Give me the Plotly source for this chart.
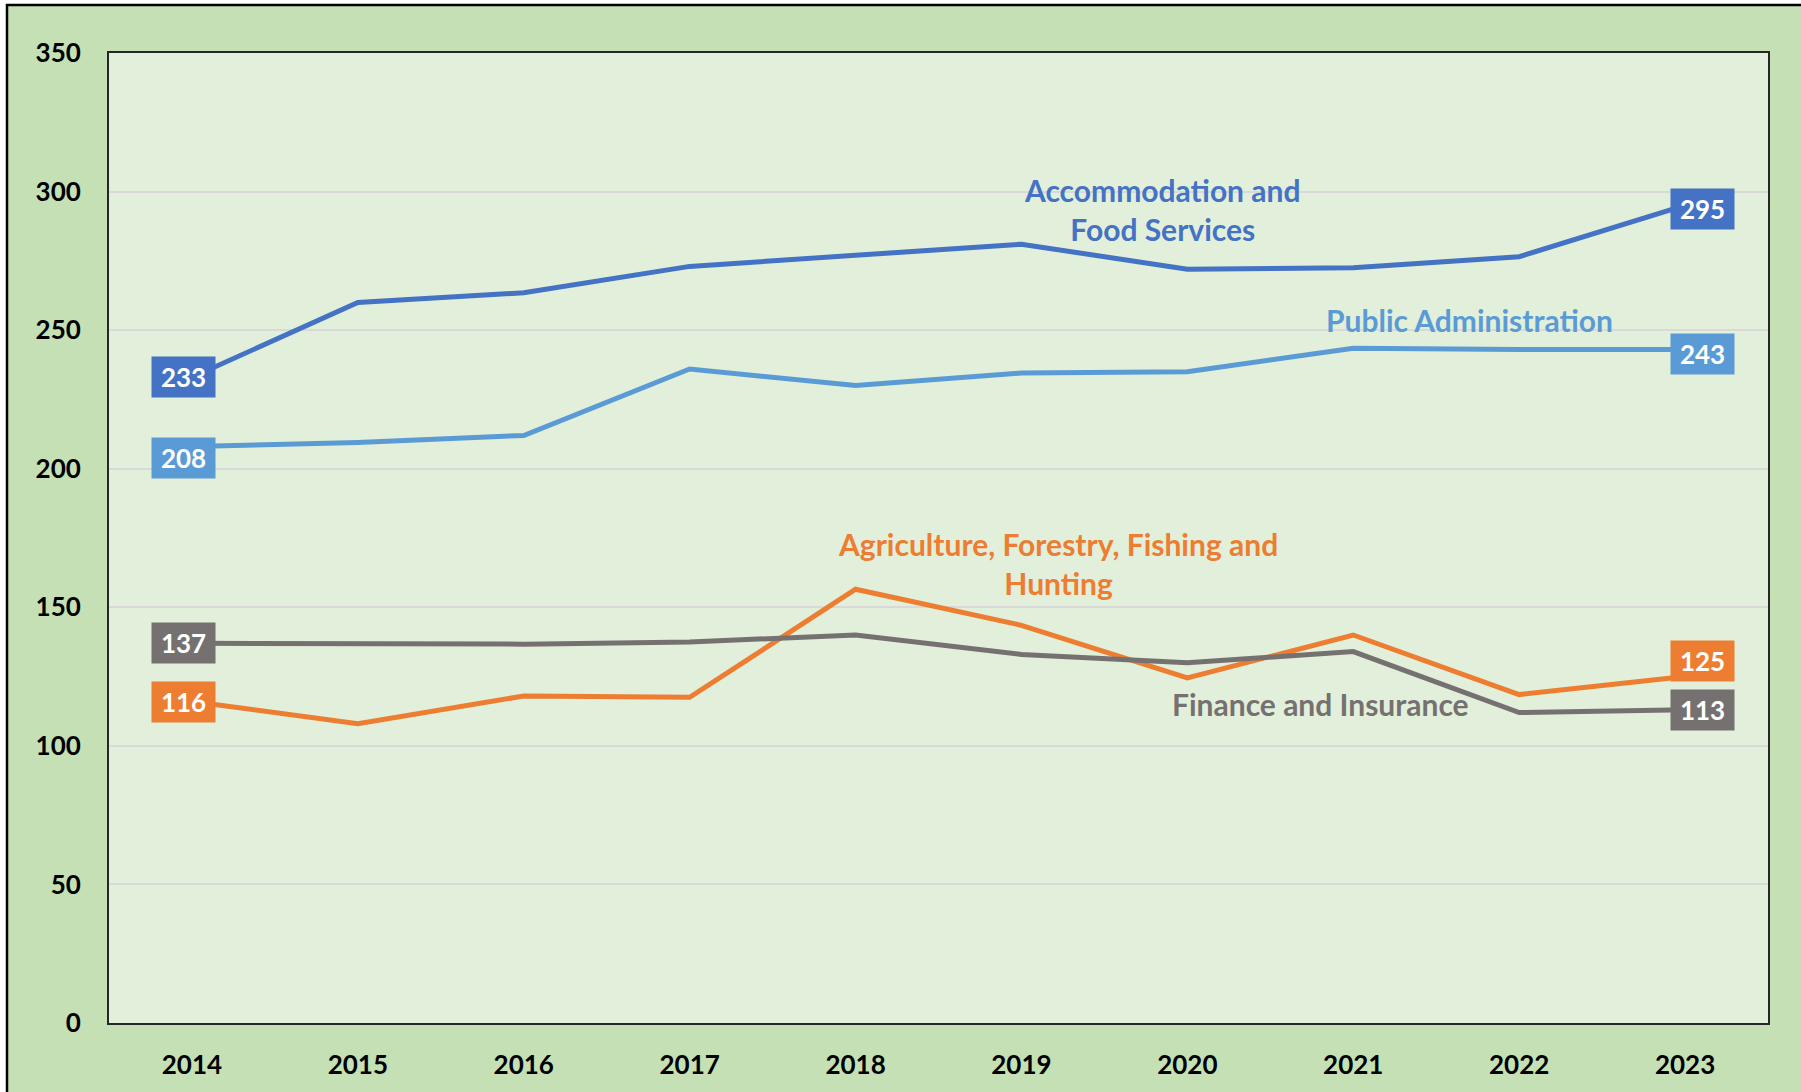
import plotly.graph_objects as go

years = ["2014", "2015", "2016", "2017", "2018", "2019", "2020", "2021", "2022", "2023"]
accommodation = [233, 260, 263.5, 273, 277, 281, 272, 272.5, 276.5, 295]
public_admin = [208, 209.5, 212, 236, 230, 234.5, 235, 243.5, 243, 243]
agriculture = [116, 108, 118, 117.5, 156.5, 143.5, 124.5, 140, 118.5, 125]
finance = [137, 136.7, 136.7, 137.5, 140, 133, 130, 134, 112, 113]

series = [
    ("Accommodation and<br>Food Services", accommodation, "#4472C4"),
    ("Public Administration", public_admin, "#5B9BD5"),
    ("Agriculture, Forestry, Fishing and<br>Hunting", agriculture, "#ED7D31"),
    ("Finance and Insurance", finance, "#767171"),
]

# label placement (x index, y value) for series names
name_pos = [(5.85, 293.5), (7.70, 253.5), (5.22, 165.8), (6.80, 115.2)]
# y shifts for end labels (first, last)
end_shift = [(0, -4), (-11, -4), (0, 16), (0, 0)]

FONT = "Lato"

fig = go.Figure()
for name, vals, col in series:
    fig.add_trace(go.Scatter(x=list(range(len(years))), y=vals, mode="lines",
                             name=name.replace("<br>", " "),
                             line=dict(color=col, width=5), showlegend=False))

annotations = []
for (name, vals, col), (nx, ny), (s0, s1) in zip(series, name_pos, end_shift):
    annotations.append(dict(x=nx, y=ny, xref="x", yref="y", text=name, showarrow=False,
                            align="center", yanchor="middle", xanchor="center",
                            font=dict(family=FONT, size=30, color=col, weight="bold")))
    for idx, xs, ys in ((0, -8, s0), (len(vals) - 1, 17, s1)):
        annotations.append(dict(x=idx, y=vals[idx], xref="x", yref="y",
                                text=str(round(vals[idx])), showarrow=False,
                                xshift=xs, yshift=ys, width=63, height=40, borderpad=0,
                                bgcolor=col, align="center", valign="middle",
                                font=dict(family=FONT, size=26, color="white", weight="bold")))

L, R, T, B = 109, 33, 53, 67
W, H = 1801, 1092
pw, ph = W - L - R, H - T - B

def px2fx(px):
    return (px - L) / pw

def py2fy(py):
    return (H - B - py) / ph

shapes = [
    dict(type="rect", xref="paper", yref="paper", layer="below",
         x0=px2fx(7), x1=px2fx(W + 20), y0=py2fy(5), y1=py2fy(H + 20),
         fillcolor="#C5E0B4", line=dict(color="black", width=2.5)),
    dict(type="rect", xref="paper", yref="paper", layer="below",
         x0=0, x1=1, y0=0, y1=1, fillcolor="#E2EFDA", line=dict(width=0)),
]

fig.update_layout(
    width=W, height=H,
    margin=dict(l=L, r=R, t=T, b=B),
    paper_bgcolor="white",
    plot_bgcolor="#E2EFDA",
    annotations=annotations,
    shapes=shapes,
    xaxis=dict(range=[-0.5, 9.5], tickmode="array", tickvals=list(range(len(years))),
               ticktext=years, showgrid=False, showline=True, mirror=True, zeroline=False,
               linecolor="#262626", linewidth=2, ticks="", ticklabelstandoff=18,
               tickfont=dict(family=FONT, size=26, color="black", weight="bold")),
    yaxis=dict(range=[0, 350], dtick=50, showgrid=True, gridcolor="#D9D9D9", gridwidth=1.5,
               showline=True, mirror=True, linecolor="#262626", linewidth=2, ticks="",
               ticklabelstandoff=21, zeroline=False,
               tickfont=dict(family=FONT, size=26, color="black", weight="bold")),
)

fig.write_html("out.html", config={"displayModeBar": False},
               post_script="document.body.style.margin='0';document.body.style.overflow='hidden';")
